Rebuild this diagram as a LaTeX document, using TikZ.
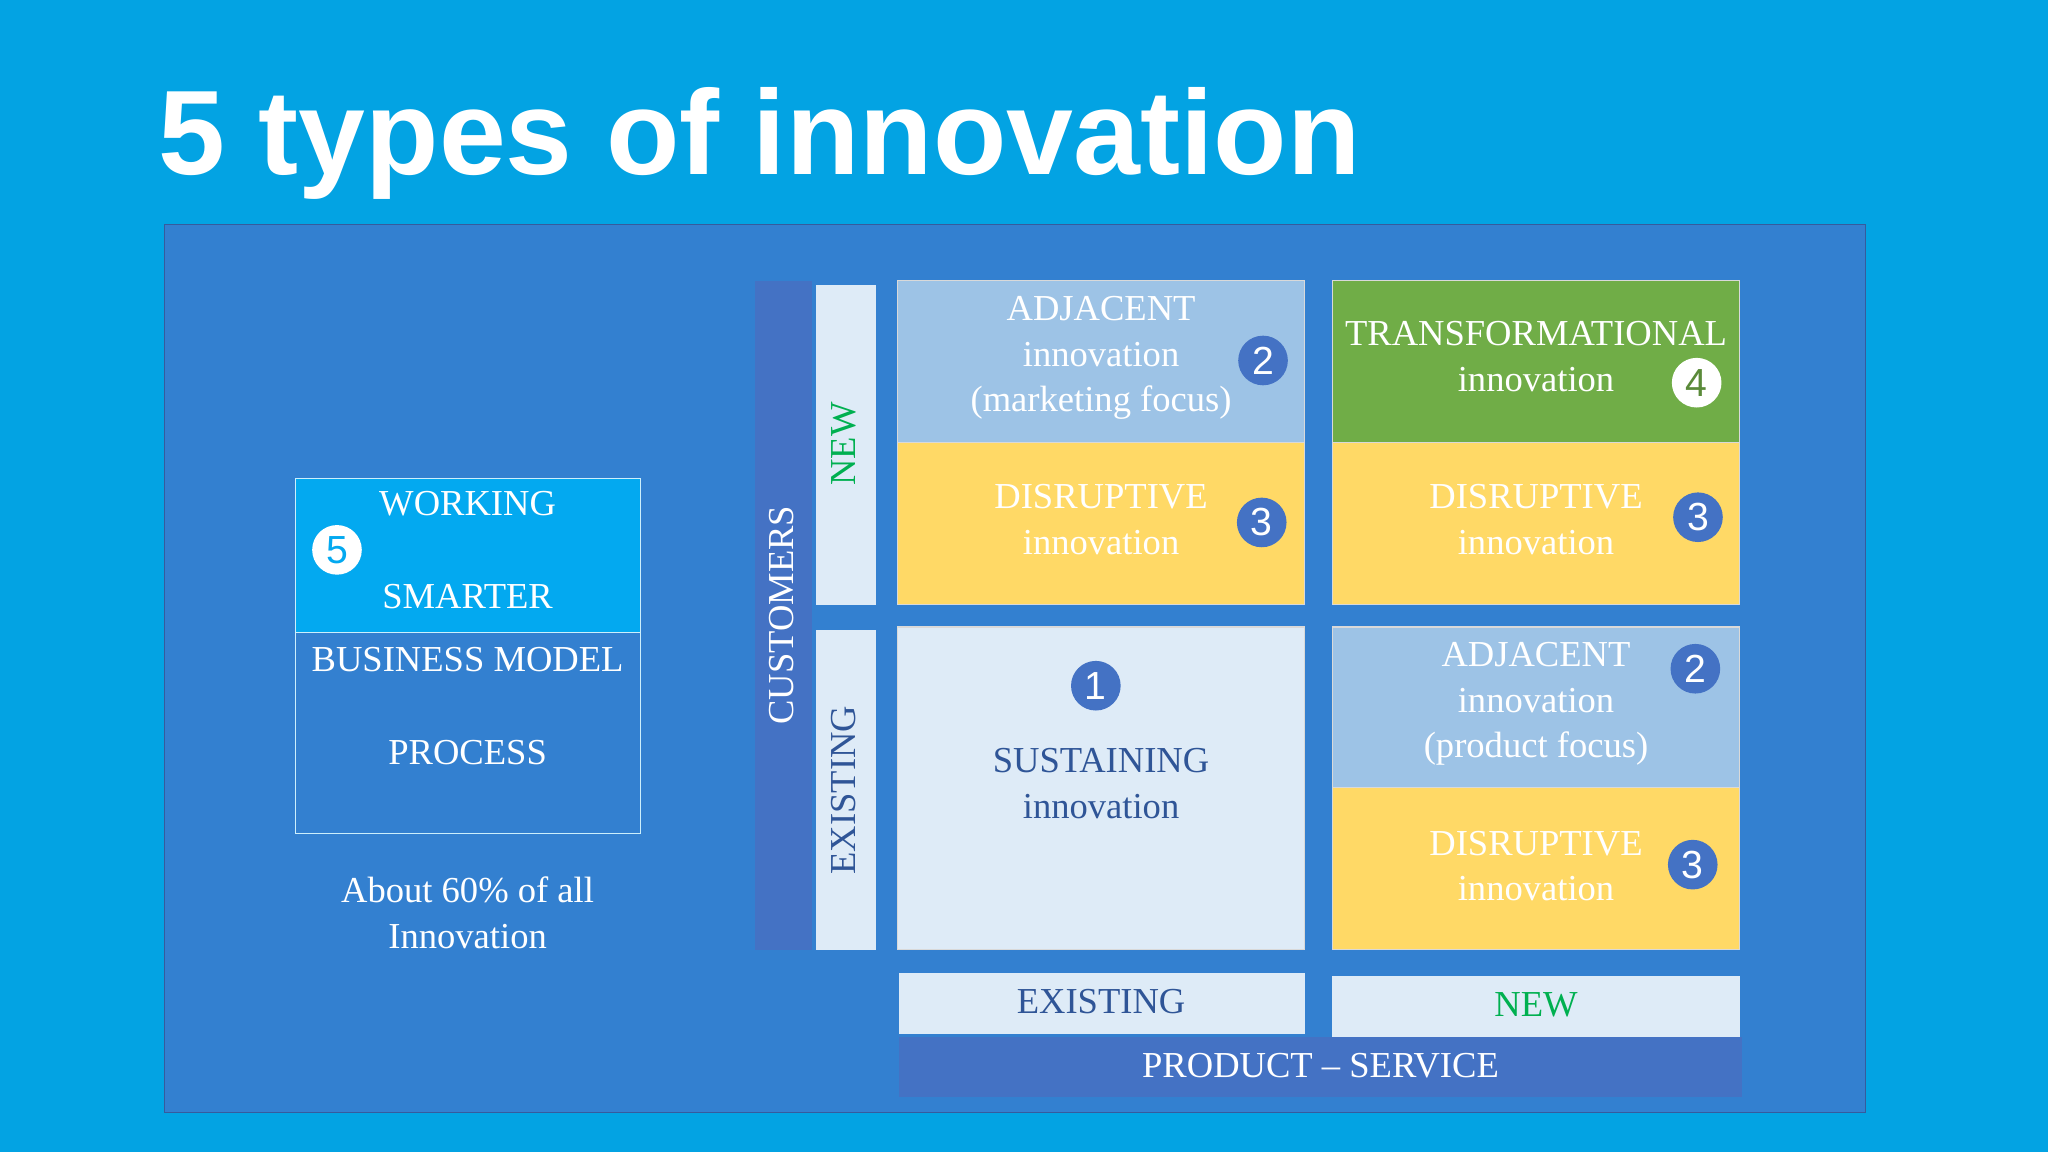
\documentclass[tikz,border=0pt]{standalone}
\usepackage{fontspec}
\setmainfont{Liberation Serif}
\newfontfamily\titlefont{Liberation Sans}
\definecolor{bg}{HTML}{03A3E3}
\definecolor{panel}{HTML}{3380D0}
\definecolor{dblue}{HTML}{4472C4}
\definecolor{lblue}{HTML}{DEEBF7}
\definecolor{mblue}{HTML}{9DC3E6}
\definecolor{ygold}{HTML}{FFD966}
\definecolor{gr}{HTML}{70AD47}
\definecolor{tblue}{HTML}{2F5597}
\definecolor{tgreen}{HTML}{00B050}
\definecolor{cyan5}{HTML}{03A9F0}
\begin{document}
\begin{tikzpicture}[x=1pt,y=-1pt,
  cell/.style={draw=white!70!gray,line width=1pt},
  num/.style={circle,fill=dblue,text=white,minimum size=38pt,inner sep=0pt,font=\titlefont\fontsize{30}{30}\selectfont},
  wnum/.style={circle,fill=white,minimum size=38pt,inner sep=0pt,font=\titlefont\fontsize{30}{30}\selectfont},
  txt/.style={align=center,font=\fontsize{28}{35}\selectfont},
  sm/.style={font=\fontsize{28}{35}\selectfont}]
\useasboundingbox (0,0) rectangle (1568,882);
\fill[bg] (0,0) rectangle (1568,882);
\node[anchor=west,text=white,font=\titlefont\bfseries\fontsize{92}{92}\selectfont] (title) at (118,110) {5 types of innovation};
\draw[fill=panel,draw=dblue!80!black,line width=1pt] (126,172) rectangle (1428,852);
% left
\draw[fill=cyan5,draw=white!80!cyan] (226,366) rectangle (490,484);
\draw[draw=white!80!cyan] (226,484) rectangle (490,638);
\node[sm,text=white] (w) at (358,386) {WORKING};
\node[sm,text=white] (s) at (358,457) {SMARTER};
\node[wnum,text=cyan5] (n5) at (258,421) {5};
\node[sm,text=white] (bm) at (358,505) {BUSINESS MODEL};
\node[sm,text=white] (pr) at (358,576) {PROCESS};
\node[txt,text=white] (ab) at (358,699) {About 60\% of all\\Innovation};
% side bars
\fill[dblue] (578,215) rectangle (622,727);
\node[sm,text=white,rotate=90] (cu) at (598,471) {CUSTOMERS};
\fill[lblue] (625,218) rectangle (671,463);
\node[sm,text=tgreen,rotate=90] (nw) at (646,340) {NEW};
\fill[lblue] (625,482) rectangle (671,727);
\node[sm,text=tblue,rotate=90] (ex) at (646,605) {EXISTING};
% cells
\draw[cell,fill=mblue] (687,215) rectangle (999,339);
\node[txt,text=white] (a1) at (843,274) {ADJACENT\\innovation\\(marketing focus)};
\node[num] (n2a) at (967,276) {2};
\draw[cell,fill=ygold] (687,339) rectangle (999,463);
\node[txt,text=white] (d1) at (843,398) {DISRUPTIVE\\innovation};
\node[num] (n3a) at (966,400) {3};
\draw[cell,fill=gr] (1020,215) rectangle (1332,339);
\node[txt,text=white] (t1) at (1176,273) {TRANSFORMATIONAL\\innovation};
\node[wnum,text=gr!80!black] (n4) at (1299,293) {4};
\draw[cell,fill=ygold] (1020,339) rectangle (1332,463);
\node[txt,text=white] (d2) at (1176,398) {DISRUPTIVE\\innovation};
\node[num] (n3b) at (1300,396) {3};
\draw[cell,fill=lblue] (687,480) rectangle (999,727);
\node[num] (n1) at (839,525) {1};
\node[txt,text=tblue] (su) at (843,600) {SUSTAINING\\innovation};
\draw[cell,fill=mblue] (1020,480) rectangle (1332,603);
\node[txt,text=white] (a2) at (1176,539) {ADJACENT\\innovation\\(product focus)};
\node[num] (n2b) at (1298,512) {2};
\draw[cell,fill=ygold] (1020,603) rectangle (1332,727);
\node[txt,text=white] (d3) at (1176,663) {DISRUPTIVE\\innovation};
\node[num] (n3c) at (1296,662) {3};
% bottom
\fill[lblue] (688,745) rectangle (999,792);
\node[sm,text=tblue] (be) at (843,767) {EXISTING};
\fill[lblue] (1020,747) rectangle (1332,794);
\node[sm,text=tgreen] (bn) at (1176,769) {NEW};
\fill[dblue] (688,794) rectangle (1334,840);
\node[sm,text=white] (ps) at (1011,816) {PRODUCT – SERVICE};
\end{tikzpicture}
\end{document}
